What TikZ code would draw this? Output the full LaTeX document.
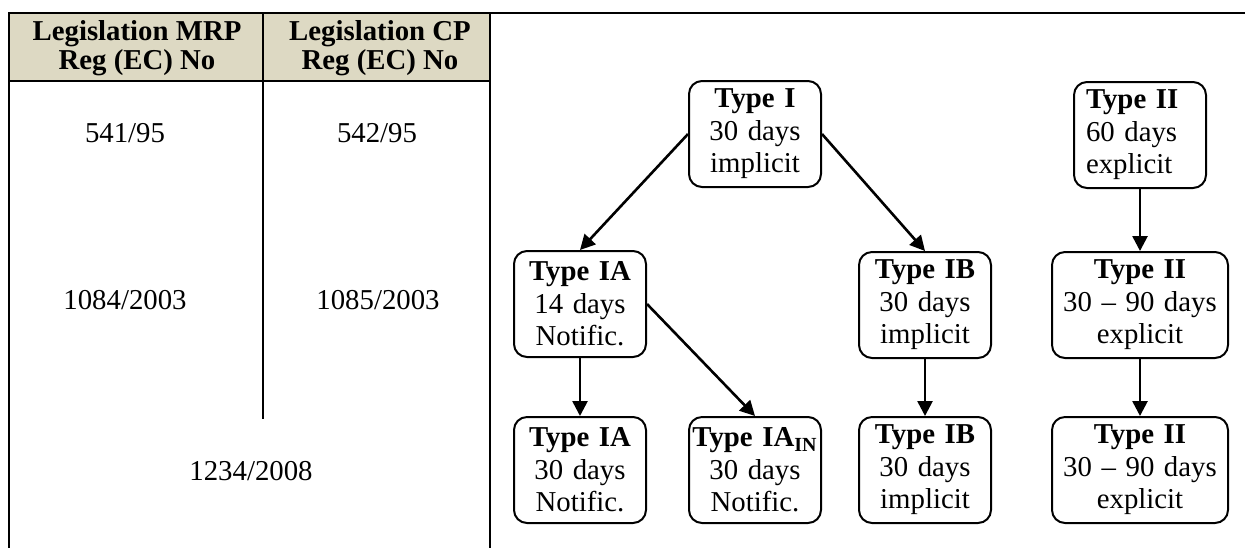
\documentclass[tikz,border=0pt]{standalone}
\usepackage{fontspec}
\setmainfont{Liberation Serif}
\usepackage{tikz}
\usetikzlibrary{arrows.meta}

\definecolor{headbg}{HTML}{DDD9C3}

\begin{document}
\begin{tikzpicture}[x=0.5pt, y=-0.5pt,
    box/.style={draw, line width=1pt, rounded corners=6.5pt, align=center,
        text width=62pt, inner xsep=2pt, inner ysep=0pt, minimum height=53pt,
        font=\fontsize{14.4}{16.3}\selectfont},
    widebox/.style={box, text width=84pt},
    link/.style={line width=1.3pt, -{Triangle[length=7.5pt, width=7.5pt]}},
    cell/.style={font=\fontsize{14.4}{16.3}\selectfont},
    head/.style={font=\fontsize{14.4}{14.6}\selectfont\bfseries, align=center}]
    \useasboundingbox (0,0) rectangle (1245,548);

    % Table frame
    \fill[headbg] (9,13) rectangle (490,81);
    \draw[line width=1pt] (1245,13) -- (9,13) -- (9,548);
    \draw[line width=1pt] (9,81) -- (490,81);
    \draw[line width=1pt] (263,13) -- (263,419);
    \draw[line width=1pt] (490,13) -- (490,548);

    % Table texts
    \node[head] (hmrp) at (137,48) {Legislation MRP\\Reg (EC) No};
    \node[head] (hcp) at (380,48) {Legislation CP\\Reg (EC) No};
    \node[cell] (r1a) at (125,133) {541/95};
    \node[cell] (r1b) at (377,133) {542/95};
    \node[cell] (r2a) at (125,300) {1084/2003};
    \node[cell] (r2b) at (378,300) {1085/2003};
    \node[cell] (r3) at (251,471) {1234/2008};

    % Define variation types
    \node[box] (TI) at (755,134) {\textbf{Type I}\\30 days\\implicit};
    \node[box, align=left, text width=54pt, inner xsep=6pt] (TII) at (1140,135) {\textbf{Type II}\\60 days\\explicit};
    \node[box] (TIA) at (580,304) {\textbf{Type IA}\\14 days\\Notific.};
    \node[box] (TIB) at (925,305) {\textbf{Type IB}\\30 days\\implicit};
    \node[widebox] (TIIm) at (1140,305) {\textbf{Type II}\\30 -- 90 days\\explicit};
    \node[box] (TIAb) at (580,470) {\textbf{Type IA}\\30 days\\Notific.};
    \node[box] (TIAin) at (755,470) {\makebox[\linewidth][c]{\textbf{Type IA\textsubscript{IN}}}\\30 days\\Notific.};
    \node[box] (TIBb) at (925,470) {\textbf{Type IB}\\30 days\\implicit};
    \node[widebox] (TIIb) at (1140,470) {\textbf{Type II}\\30 -- 90 days\\explicit};

    % Draw edges with arrows
    \draw[link] (TI.west) -- (TIA.north);
    \draw[link] (TI.east) -- (TIB.north);
    \draw[link] (TIA.east) -- (TIAin.north);
    \draw[link] (TIA.south) -- (TIAb.north);
    \draw[link] (TIB.south) -- (TIBb.north);
    \draw[link] (TII.south) -- (TIIm.north);
    \draw[link] (TIIm.south) -- (TIIb.north);
\end{tikzpicture}
\end{document}
